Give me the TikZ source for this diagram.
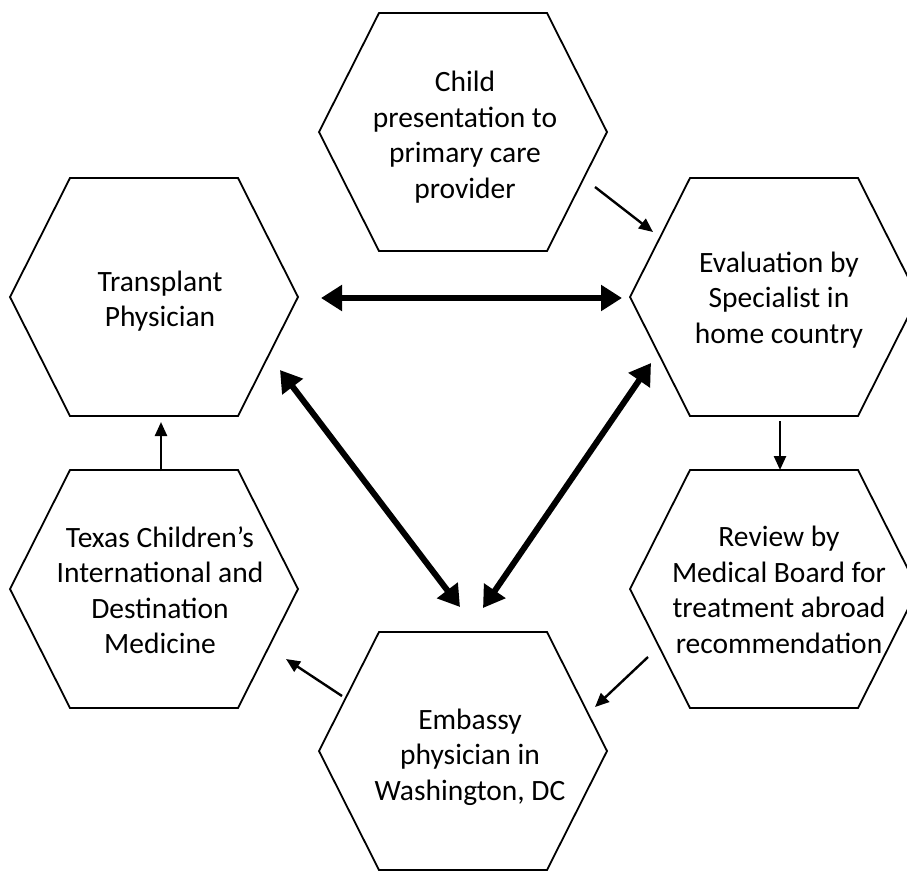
\documentclass[tikz,border=0pt]{standalone}
\usepackage{fontspec}
\setmainfont{Carlito}
\usetikzlibrary{arrows.meta,calc}
\begin{document}
\begin{tikzpicture}[x=1pt,y=-1pt,
  hexlabel/.style={align=center,font=\fontsize{29.5}{35.5}\selectfont,inner sep=0pt},
  hexline/.style={draw=black,line width=1.8pt,line join=miter},
  thinarrow/.style={line width=2.4pt,-{Triangle[length=14pt,width=12pt]}},
  thickarrow/.style={line width=6pt,{Triangle[length=21pt,width=25pt]}-{Triangle[length=21pt,width=25pt]}}]
\useasboundingbox (0,0) rectangle (907,871);
\newcommand\hexat[1]{\draw[hexline] ($(#1)+(-144,0)$) -- ($(#1)+(-84,-119)$) -- ($(#1)+(84,-119)$) -- ($(#1)+(144,0)$) -- ($(#1)+(84,119)$) -- ($(#1)+(-84,119)$) -- cycle;}
% centres
\coordinate (child) at (463,132);
\coordinate (trans) at (154,297);
\coordinate (eval) at (774,297);
\coordinate (texas) at (154,589);
\coordinate (review) at (774,589);
\coordinate (emb) at (463,751);
% hexagons
\hexat{child}
\hexat{trans}
\hexat{eval}
\hexat{texas}
\hexat{review}
\hexat{emb}
% labels
\node[hexlabel] (childtxt) at ($(child)+(2,5)$) {Child\\presentation to\\primary care\\provider};
\node[hexlabel] (transtxt) at ($(trans)+(6,4)$) {Transplant\\Physician};
\node[hexlabel] (evaltxt) at ($(eval)+(5,3)$) {Evaluation by\\Specialist in\\home country};
\node[hexlabel] (texastxt) at ($(texas)+(6,1)$) {Texas Children’s\\International and\\Destination\\Medicine};
\node[hexlabel] (reviewtxt) at ($(review)+(5,1)$) {Review by\\Medical Board for\\treatment abroad\\recommendation};
\node[hexlabel] (embtxt) at ($(emb)+(7,6)$) {Embassy\\physician in\\Washington, DC};
% connectors
\draw[thinarrow] ($(child)+(132,55)$) -- ($(eval)+(-121,-65)$);
\draw[thickarrow] ($(trans)+(167,1)$) -- ($(eval)+(-152,1)$);
\draw[thickarrow] ($(trans)+(126,73)$) -- ($(emb)+(-3,-144)$);
\draw[thickarrow] ($(eval)+(-123,66)$) -- ($(emb)+(20,-143)$);
\draw[thinarrow] ($(eval)+(6,124)$) -- ($(review)+(6,-119)$);
\draw[thinarrow] ($(review)+(-126,68)$) -- ($(emb)+(132,-44)$);
\draw[thinarrow] ($(emb)+(-121,-55)$) -- ($(texas)+(132,70)$);
\draw[thinarrow] ($(texas)+(7,-118)$) -- ($(trans)+(7,125)$);
\end{tikzpicture}
\end{document}
